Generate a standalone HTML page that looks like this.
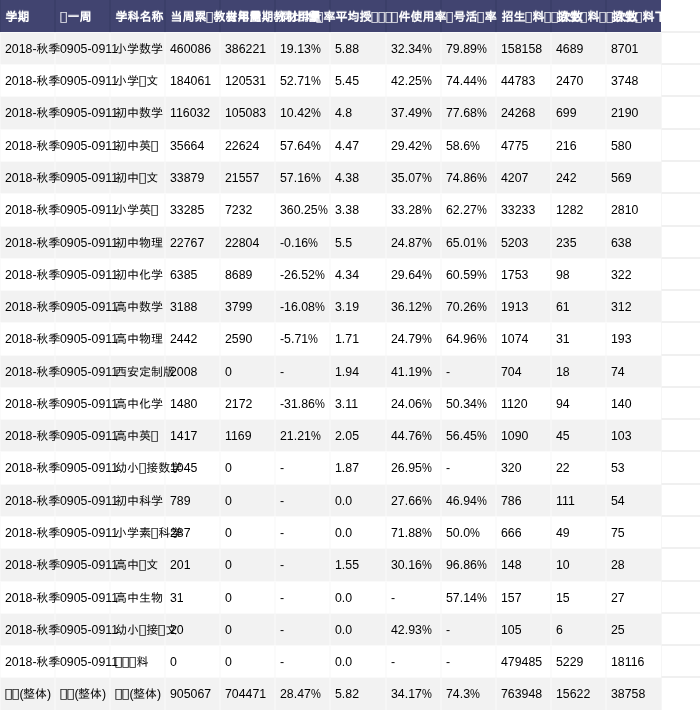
<!DOCTYPE html>
<html lang="zh-CN">
<head>
<meta charset="utf-8">
<title>学科教材用量</title>
<style>
html,body{margin:0;padding:0;background:#fff;}
body{width:700px;height:710px;overflow:hidden;position:relative;color:#000;
  font-family:"Liberation Sans","IPAGothic","Noto Sans CJK JP",sans-serif;font-size:12.34px;line-height:20px;}
table{position:absolute;left:0;top:0;width:700px;border-collapse:separate;border-spacing:0;table-layout:fixed;}
col{width:55px;}
col.c7{width:56px;}
col.c13{width:39px;}
th,td{box-sizing:border-box;height:32px;padding:6px 0 0 4px;margin:0;white-space:nowrap;overflow:visible;
  text-align:left;vertical-align:top;font-weight:normal;
  border:0 solid #fbfbfb;border-width:1px 1px 0 1px;border-top-color:#fafafa;}
tr.t th,tr.t td{height:33px;}
th{color:#fff;font-weight:bold;background:#414470;border-color:#3b3f69;border-top-width:0;padding-top:7px;}
tr.odd td{background:#f2f2f2;border-left-color:#f6f6f6;border-right-color:#f6f6f6;}
tr.odd:nth-child(2) td{border-top-color:#fbfbfb;}
th.x,td.x,tr.odd td.x{background:#fff;padding:0;border-color:#f0f0f0;border-left:1px solid #f6f6f6;border-right:0;}
th.x{border-left:0;border-bottom:1px solid #f0f0f0;}
td.x{border-bottom:1px solid #f0f0f0;}
tr:last-child td.x{border-bottom:0;}
th:nth-child(12),td:nth-child(12){border-right-width:0;}
.z{font-size:12px;line-height:0;}
.z.h{margin-left:-0.25px;}
.z.q{margin-left:-0.5px;}
.g{display:inline-block;width:7.2px;line-height:0;font-family:"DejaVu Sans",sans-serif;font-weight:normal;font-size:14.2px;
  text-indent:-0.4px;position:relative;top:0.4px;transform:scaleX(1.17);transform-origin:50% 50%;opacity:.9;}
.pc{display:inline-block;transform:scaleX(0.9);transform-origin:0 50%;}
th{text-shadow:0 -1px 0 rgba(255,255,255,.3);}
th .z{display:inline-block;transform:translateX(.4px);}
th .g{text-shadow:none;transform:translateX(-.4px) scaleX(1.17);}
</style>
</head>
<body>
<!--
  Data table recreated from a screenshot.
  In the screenshot some glyphs were not available to the renderer and were drawn as
  hollow "missing glyph" boxes; those positions are reproduced here with U+25AF (▯).
-->
<table>
<colgroup><col class="c1"><col class="c2"><col class="c3"><col class="c4"><col class="c5"><col class="c6"><col class="c7"><col class="c8"><col class="c9"><col class="c10"><col class="c11"><col class="c12"><col class="c13"></colgroup>
<tbody>
<tr class="hd"><th><span class="z">学期</span></th><th><span class="z"><span class="g">▯</span>一周</span></th><th><span class="z">学科名称</span></th><th><span class="z">当周累<span class="g">▯</span>教材用量</span></th><th><span class="z">去年同期教材用量</span></th><th><span class="z">同比增<span class="g">▯</span>率</span></th><th><span class="z">平均授<span class="g">▯</span><span class="g">▯</span><span class="g">▯</span></span></th><th><span class="z"><span class="g">▯</span>件使用率</span></th><th><span class="z"><span class="g">▯</span>号活<span class="g">▯</span>率</span></th><th><span class="z">招生<span class="g">▯</span>料<span class="g">▯</span><span class="g">▯</span>次数</span></th><th><span class="z">招生<span class="g">▯</span>料<span class="g">▯</span><span class="g">▯</span>次数</span></th><th><span class="z">招生<span class="g">▯</span>料下<span class="g">▯</span>次数</span></th><th class="x"></th></tr>
<tr class="odd"><td>2018-<span class="z h">秋季</span></td><td>0905-0911</td><td><span class="z">小学数学</span></td><td>460086</td><td>386221</td><td>19.13<span class="pc">%</span></td><td>5.88</td><td>32.34<span class="pc">%</span></td><td>79.89<span class="pc">%</span></td><td>158158</td><td>4689</td><td>8701</td><td class="x"></td></tr>
<tr><td>2018-<span class="z h">秋季</span></td><td>0905-0911</td><td><span class="z">小学<span class="g">▯</span>文</span></td><td>184061</td><td>120531</td><td>52.71<span class="pc">%</span></td><td>5.45</td><td>42.25<span class="pc">%</span></td><td>74.44<span class="pc">%</span></td><td>44783</td><td>2470</td><td>3748</td><td class="x"></td></tr>
<tr class="odd t"><td>2018-<span class="z h">秋季</span></td><td>0905-0911</td><td><span class="z">初中数学</span></td><td>116032</td><td>105083</td><td>10.42<span class="pc">%</span></td><td>4.8</td><td>37.49<span class="pc">%</span></td><td>77.68<span class="pc">%</span></td><td>24268</td><td>699</td><td>2190</td><td class="x"></td></tr>
<tr><td>2018-<span class="z h">秋季</span></td><td>0905-0911</td><td><span class="z">初中英<span class="g">▯</span></span></td><td>35664</td><td>22624</td><td>57.64<span class="pc">%</span></td><td>4.47</td><td>29.42<span class="pc">%</span></td><td>58.6<span class="pc">%</span></td><td>4775</td><td>216</td><td>580</td><td class="x"></td></tr>
<tr class="odd"><td>2018-<span class="z h">秋季</span></td><td>0905-0911</td><td><span class="z">初中<span class="g">▯</span>文</span></td><td>33879</td><td>21557</td><td>57.16<span class="pc">%</span></td><td>4.38</td><td>35.07<span class="pc">%</span></td><td>74.86<span class="pc">%</span></td><td>4207</td><td>242</td><td>569</td><td class="x"></td></tr>
<tr class="t"><td>2018-<span class="z h">秋季</span></td><td>0905-0911</td><td><span class="z">小学英<span class="g">▯</span></span></td><td>33285</td><td>7232</td><td>360.25<span class="pc">%</span></td><td>3.38</td><td>33.28<span class="pc">%</span></td><td>62.27<span class="pc">%</span></td><td>33233</td><td>1282</td><td>2810</td><td class="x"></td></tr>
<tr class="odd"><td>2018-<span class="z h">秋季</span></td><td>0905-0911</td><td><span class="z">初中物理</span></td><td>22767</td><td>22804</td><td>-0.16<span class="pc">%</span></td><td>5.5</td><td>24.87<span class="pc">%</span></td><td>65.01<span class="pc">%</span></td><td>5203</td><td>235</td><td>638</td><td class="x"></td></tr>
<tr><td>2018-<span class="z h">秋季</span></td><td>0905-0911</td><td><span class="z">初中化学</span></td><td>6385</td><td>8689</td><td>-26.52<span class="pc">%</span></td><td>4.34</td><td>29.64<span class="pc">%</span></td><td>60.59<span class="pc">%</span></td><td>1753</td><td>98</td><td>322</td><td class="x"></td></tr>
<tr class="odd"><td>2018-<span class="z h">秋季</span></td><td>0905-0911</td><td><span class="z">高中数学</span></td><td>3188</td><td>3799</td><td>-16.08<span class="pc">%</span></td><td>3.19</td><td>36.12<span class="pc">%</span></td><td>70.26<span class="pc">%</span></td><td>1913</td><td>61</td><td>312</td><td class="x"></td></tr>
<tr class="t"><td>2018-<span class="z h">秋季</span></td><td>0905-0911</td><td><span class="z">高中物理</span></td><td>2442</td><td>2590</td><td>-5.71<span class="pc">%</span></td><td>1.71</td><td>24.79<span class="pc">%</span></td><td>64.96<span class="pc">%</span></td><td>1074</td><td>31</td><td>193</td><td class="x"></td></tr>
<tr class="odd"><td>2018-<span class="z h">秋季</span></td><td>0905-0911</td><td><span class="z">西安定制版</span></td><td>2008</td><td>0</td><td>-</td><td>1.94</td><td>41.19<span class="pc">%</span></td><td>-</td><td>704</td><td>18</td><td>74</td><td class="x"></td></tr>
<tr><td>2018-<span class="z h">秋季</span></td><td>0905-0911</td><td><span class="z">高中化学</span></td><td>1480</td><td>2172</td><td>-31.86<span class="pc">%</span></td><td>3.11</td><td>24.06<span class="pc">%</span></td><td>50.34<span class="pc">%</span></td><td>1120</td><td>94</td><td>140</td><td class="x"></td></tr>
<tr class="odd"><td>2018-<span class="z h">秋季</span></td><td>0905-0911</td><td><span class="z">高中英<span class="g">▯</span></span></td><td>1417</td><td>1169</td><td>21.21<span class="pc">%</span></td><td>2.05</td><td>44.76<span class="pc">%</span></td><td>56.45<span class="pc">%</span></td><td>1090</td><td>45</td><td>103</td><td class="x"></td></tr>
<tr class="t"><td>2018-<span class="z h">秋季</span></td><td>0905-0911</td><td><span class="z">幼小<span class="g">▯</span>接数学</span></td><td>1045</td><td>0</td><td>-</td><td>1.87</td><td>26.95<span class="pc">%</span></td><td>-</td><td>320</td><td>22</td><td>53</td><td class="x"></td></tr>
<tr class="odd"><td>2018-<span class="z h">秋季</span></td><td>0905-0911</td><td><span class="z">初中科学</span></td><td>789</td><td>0</td><td>-</td><td>0.0</td><td>27.66<span class="pc">%</span></td><td>46.94<span class="pc">%</span></td><td>786</td><td>111</td><td>54</td><td class="x"></td></tr>
<tr><td>2018-<span class="z h">秋季</span></td><td>0905-0911</td><td><span class="z">小学素<span class="g">▯</span>科学</span></td><td>287</td><td>0</td><td>-</td><td>0.0</td><td>71.88<span class="pc">%</span></td><td>50.0<span class="pc">%</span></td><td>666</td><td>49</td><td>75</td><td class="x"></td></tr>
<tr class="odd t"><td>2018-<span class="z h">秋季</span></td><td>0905-0911</td><td><span class="z">高中<span class="g">▯</span>文</span></td><td>201</td><td>0</td><td>-</td><td>1.55</td><td>30.16<span class="pc">%</span></td><td>96.86<span class="pc">%</span></td><td>148</td><td>10</td><td>28</td><td class="x"></td></tr>
<tr><td>2018-<span class="z h">秋季</span></td><td>0905-0911</td><td><span class="z">高中生物</span></td><td>31</td><td>0</td><td>-</td><td>0.0</td><td>-</td><td>57.14<span class="pc">%</span></td><td>157</td><td>15</td><td>27</td><td class="x"></td></tr>
<tr class="odd"><td>2018-<span class="z h">秋季</span></td><td>0905-0911</td><td><span class="z">幼小<span class="g">▯</span>接<span class="g">▯</span>文</span></td><td>20</td><td>0</td><td>-</td><td>0.0</td><td>42.93<span class="pc">%</span></td><td>-</td><td>105</td><td>6</td><td>25</td><td class="x"></td></tr>
<tr><td>2018-<span class="z h">秋季</span></td><td>0905-0911</td><td><span class="z"><span class="g">▯</span><span class="g">▯</span><span class="g">▯</span>料</span></td><td>0</td><td>0</td><td>-</td><td>0.0</td><td>-</td><td>-</td><td>479485</td><td>5229</td><td>18116</td><td class="x"></td></tr>
<tr class="odd t"><td><span class="z"><span class="g">▯</span><span class="g">▯</span></span>(<span class="z q">整体</span>)</td><td><span class="z"><span class="g">▯</span><span class="g">▯</span></span>(<span class="z q">整体</span>)</td><td><span class="z"><span class="g">▯</span><span class="g">▯</span></span>(<span class="z q">整体</span>)</td><td>905067</td><td>704471</td><td>28.47<span class="pc">%</span></td><td>5.82</td><td>34.17<span class="pc">%</span></td><td>74.3<span class="pc">%</span></td><td>763948</td><td>15622</td><td>38758</td><td class="x"></td></tr>
</tbody>
</table>
</body>
</html>
